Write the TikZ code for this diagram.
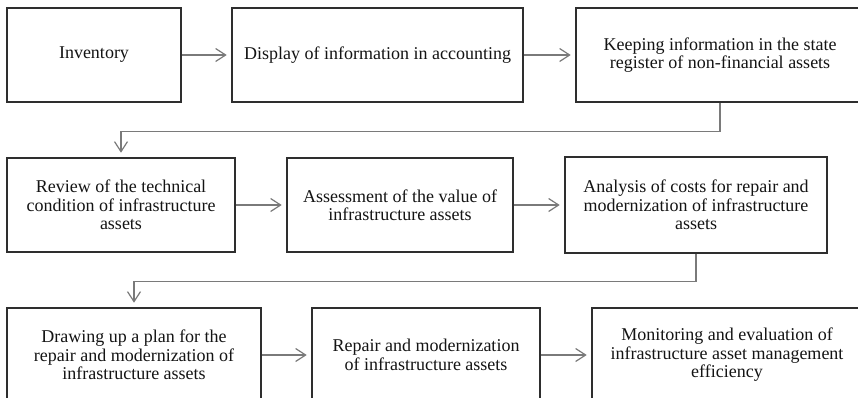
\documentclass[tikz,border=0pt]{standalone}
\usepackage{fontspec}
\setmainfont{Liberation Serif}
\usetikzlibrary{arrows.meta}
\definecolor{boxline}{HTML}{2E2E2E}
\definecolor{linkline}{HTML}{7A7A7A}
\definecolor{ink}{HTML}{141414}
\begin{document}
\begin{tikzpicture}[x=1pt,y=-1pt,
  stage/.style={draw=boxline,line width=1.6pt,inner sep=0pt,align=center,
    text=ink,font=\fontsize{18}{18.5}\selectfont,minimum height=94pt},
  link/.style={draw=linkline,line width=1.2pt,
    -{Straight Barb[length=10pt,width=13pt,line width=1.2pt]},shorten >=4.5pt}]
\useasboundingbox (0,0) rectangle (858,397);
\clip (0,0) rectangle (858,397);
\fill[white] (0,0) rectangle (858,397);

% first row
\node[stage,minimum width=174pt] (inv) at (94,55) {Inventory};
\node[stage,minimum width=291pt] (disp) at (377.5,55) {Display of information in accounting};
\node[stage,minimum width=288pt] (keep) at (720,55) {Keeping information in the state\\register of non-financial assets};

% second row
\node[stage,minimum width=228pt] (rev) at (121,205) {Review of the technical\\condition of infrastructure\\assets};
\node[stage,minimum width=226pt] (val) at (400,205) {Assessment of the value of\\infrastructure assets};
\node[stage,minimum width=262pt,minimum height=96pt] (cost) at (696,205) {Analysis of costs for repair and\\modernization of infrastructure\\assets};

% third row
\node[stage,minimum width=254pt] (plan) at (134,355) {Drawing up a plan for the\\repair and modernization of\\infrastructure assets};
\node[stage,minimum width=228pt] (rep) at (426,355) {Repair and modernization\\of infrastructure assets};
\node[stage,minimum width=270pt] (mon) at (727,355) {Monitoring and evaluation of\\infrastructure asset management\\efficiency};

% connectors
\draw[link] (inv) -- (disp);
\draw[link] (disp) -- (keep);
\draw[link] (keep.south) -- ++(0,29) -| (rev.north);
\draw[link] (rev) -- (val);
\draw[link] (val) -- (cost);
\draw[link] (cost.south) -- ++(0,28) -| (plan.north);
\draw[link] (plan) -- (rep);
\draw[link] (rep) -- (mon);
\end{tikzpicture}
\end{document}
